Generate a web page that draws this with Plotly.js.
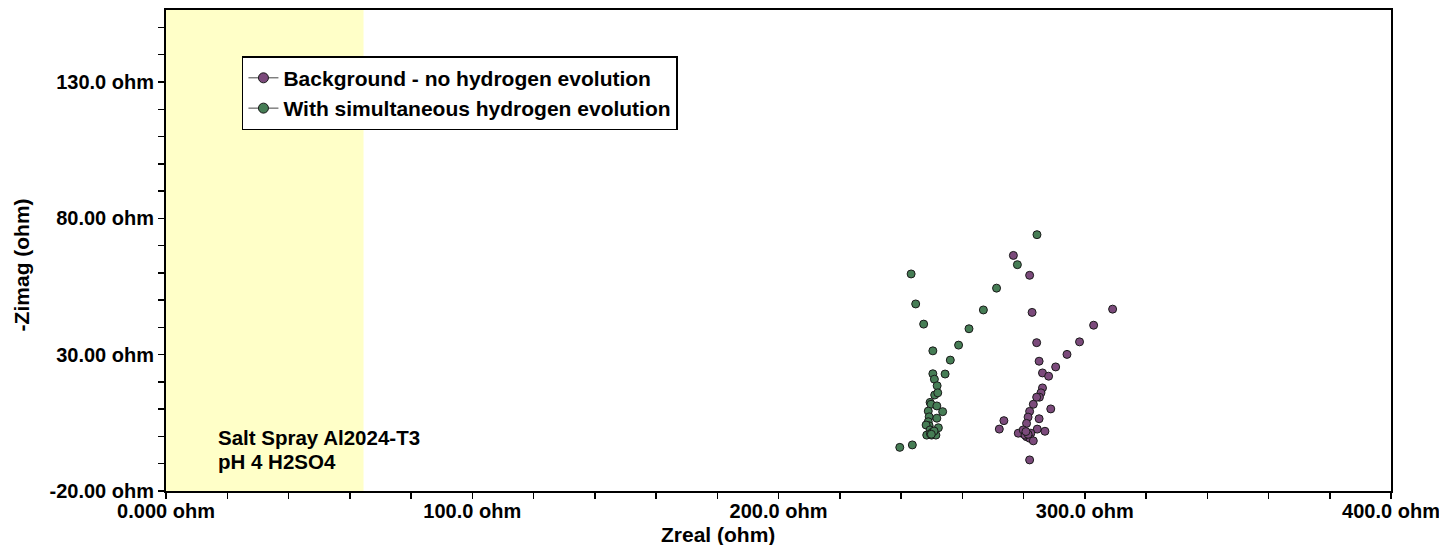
<!DOCTYPE html>
<html>
<head>
<meta charset="utf-8">
<script src="https://cdn.plot.ly/plotly-3.0.1.min.js"></script>
<style>html,body{margin:0;padding:0;background:#fff;}#chart{width:1439px;height:545px;}</style>
</head>
<body>
<div id="chart"></div>
<script>
// Series: Background - no hydrogen evolution (purple)
const bgZreal = [276.7, 282.0, 282.8, 309.1, 302.9, 298.3, 284.3, 294.2, 285.1, 290.5, 286.2, 288.2, 286.2, 285.7, 285.2, 284.3, 283.2, 288.9, 282.0, 285.1, 281.5, 281.0, 273.6, 272.1, 284.5, 287.0, 282.4, 279.4, 278.3, 281.0, 282.1, 283.2, 282.0, 279.9, 280.5, 281.5, 280.8];
const bgZimag = [66.4, 59.1, 45.5, 46.7, 40.8, 34.7, 34.4, 30.1, 27.6, 25.5, 23.3, 22.1, 17.8, 16.0, 14.4, 14.4, 11.8, 10.1, 9.2, 6.5, 7.1, 4.8, 5.8, 2.7, 2.7, 1.9, 1.2, 1.2, 1.2, -0.1, -0.7, -1.6, -8.6, 2.4, 0.5, 0.8, 1.8];
// Series: With simultaneous hydrogen evolution (green)
const h2Zreal = [243.3, 271.2, 244.8, 266.9, 247.4, 262.2, 258.8, 250.4, 256.1, 254.4, 250.4, 250.9, 251.8, 251.0, 252.0, 249.5, 249.8, 251.7, 253.6, 248.9, 249.2, 251.7, 248.9, 249.2, 248.2, 252.2, 249.5, 248.4, 250.0, 251.4, 239.6, 243.7, 284.4, 278.0, 250.2, 249.6, 250.8, 249.9];
const h2Zimag = [59.6, 54.4, 48.6, 46.4, 41.2, 39.5, 33.5, 31.4, 28.0, 22.9, 23.0, 21.0, 18.6, 15.2, 16.0, 12.5, 11.8, 11.2, 9.1, 9.3, 7.2, 6.7, 5.4, 3.9, 4.2, 3.2, 2.4, 0.5, 0.5, 0.5, -4.0, -3.1, 74.0, 63.0, 1.5, 1.0, 2.0, 0.8];

const seriesNames = ["Background - no hydrogen evolution", "With simultaneous hydrogen evolution"];
const xTickVals = [0, 20, 40, 60, 80, 100, 120, 140, 160, 180, 200, 220, 240, 260, 280, 300, 320, 340, 360, 380, 400];
const xTickText = ["0.000 ohm", "", "", "", "", "100.0 ohm", "", "", "", "", "200.0 ohm", "", "", "", "", "300.0 ohm", "", "", "", "", "400.0 ohm"];
const yTickVals = [-20, -10, 0, 10, 20, 30, 40, 50, 60, 70, 80, 90, 100, 110, 120, 130, 140, 150];
const yTickText = ["-20.00 ohm", "", "", "", "", "30.00 ohm", "", "", "", "", "80.00 ohm", "", "", "", "", "130.0 ohm", "", ""];
const shadedZreal = [0, 64.5];
const noteLines = ["Salt Spray Al2024-T3", "pH 4 H2SO4"];

const purple = "#7B4A7B";
const green = "#467D55";
const FONT = "Liberation Sans, Arial, sans-serif";

const traces = [
  { x: bgZreal, y: bgZimag, mode: "markers", type: "scatter", showlegend: false, name: seriesNames[0],
    marker: { color: purple, size: 8, line: { color: "#1a1a1a", width: 1 } } },
  { x: h2Zreal, y: h2Zimag, mode: "markers", type: "scatter", showlegend: false, name: seriesNames[1],
    marker: { color: green, size: 8, line: { color: "#1a1a1a", width: 1 } } },
  { x: [null], y: [null], mode: "lines+markers", type: "scatter", name: seriesNames[0],
    line: { color: "#444", width: 1 }, marker: { color: purple, size: 10, line: { color: "#1a1a1a", width: 1 } } },
  { x: [null], y: [null], mode: "lines+markers", type: "scatter", name: seriesNames[1],
    line: { color: "#444", width: 1 }, marker: { color: green, size: 10, line: { color: "#1a1a1a", width: 1 } } }
];

const tickFont = { family: FONT, size: 20, color: "#000", weight: "bold" };

const layout = {
  width: 1439, height: 545,
  margin: { l: 166, r: 48, t: 10, b: 54, pad: 0 },
  paper_bgcolor: "#fff", plot_bgcolor: "#fff",
  showlegend: true,
  legend: {
    x: 0.062, y: 0.904, xanchor: "left", yanchor: "top",
    bgcolor: "#fff", bordercolor: "#000", borderwidth: 1.5,
    font: { family: FONT, size: 21, color: "#000", weight: "bold" },
    tracegroupgap: 0, itemwidth: 30
  },
  xaxis: {
    range: [0, 400], autorange: false, showgrid: false, zeroline: false,
    showline: true, linecolor: "#000", linewidth: 2, mirror: true,
    ticks: "outside", ticklen: 6, tickwidth: 1.5, tickcolor: "#000",
    tickmode: "array", tickvals: xTickVals, ticktext: xTickText,
    tickfont: tickFont, automargin: false, ticklabeloverflow: "allow", ticklabelstandoff: -5
  },
  yaxis: {
    range: [-20, 156.4], autorange: false, showgrid: false, zeroline: false,
    showline: true, linecolor: "#000", linewidth: 2, mirror: true,
    ticks: "outside", ticklen: 6, tickwidth: 1.5, tickcolor: "#000",
    tickmode: "array", tickvals: yTickVals, ticktext: yTickText,
    tickfont: tickFont, automargin: false
  },
  shapes: [
    { type: "rect", xref: "x", yref: "paper", x0: shadedZreal[0], x1: shadedZreal[1], y0: 0, y1: 1,
      fillcolor: "#FFFFC8", line: { width: 0 }, layer: "below" }
  ],
  annotations: [
    { text: "Zreal (ohm)", xref: "paper", yref: "paper", x: 0.451, y: -0.09, xanchor: "center", yanchor: "middle",
      showarrow: false, font: { family: FONT, size: 21, color: "#000", weight: "bold" } },
    { text: "-Zimag (ohm)", xref: "paper", yref: "paper", x: -0.118, y: 0.47, xanchor: "center", yanchor: "middle",
      textangle: -90, showarrow: false, font: { family: FONT, size: 21, color: "#000", weight: "bold" } },
    { text: noteLines[0], xref: "paper", yref: "paper", x: 0.041, y: 0.112,
      xanchor: "left", yanchor: "middle", align: "left", showarrow: false,
      font: { family: FONT, size: 20.5, color: "#000", weight: "bold" } },
    { text: noteLines[1], xref: "paper", yref: "paper", x: 0.041, y: 0.062,
      xanchor: "left", yanchor: "middle", align: "left", showarrow: false,
      font: { family: FONT, size: 20.5, color: "#000", weight: "bold" } }
  ]
};

Plotly.newPlot("chart", traces, layout, { displayModeBar: false, staticPlot: true });
</script>
</body>
</html>
